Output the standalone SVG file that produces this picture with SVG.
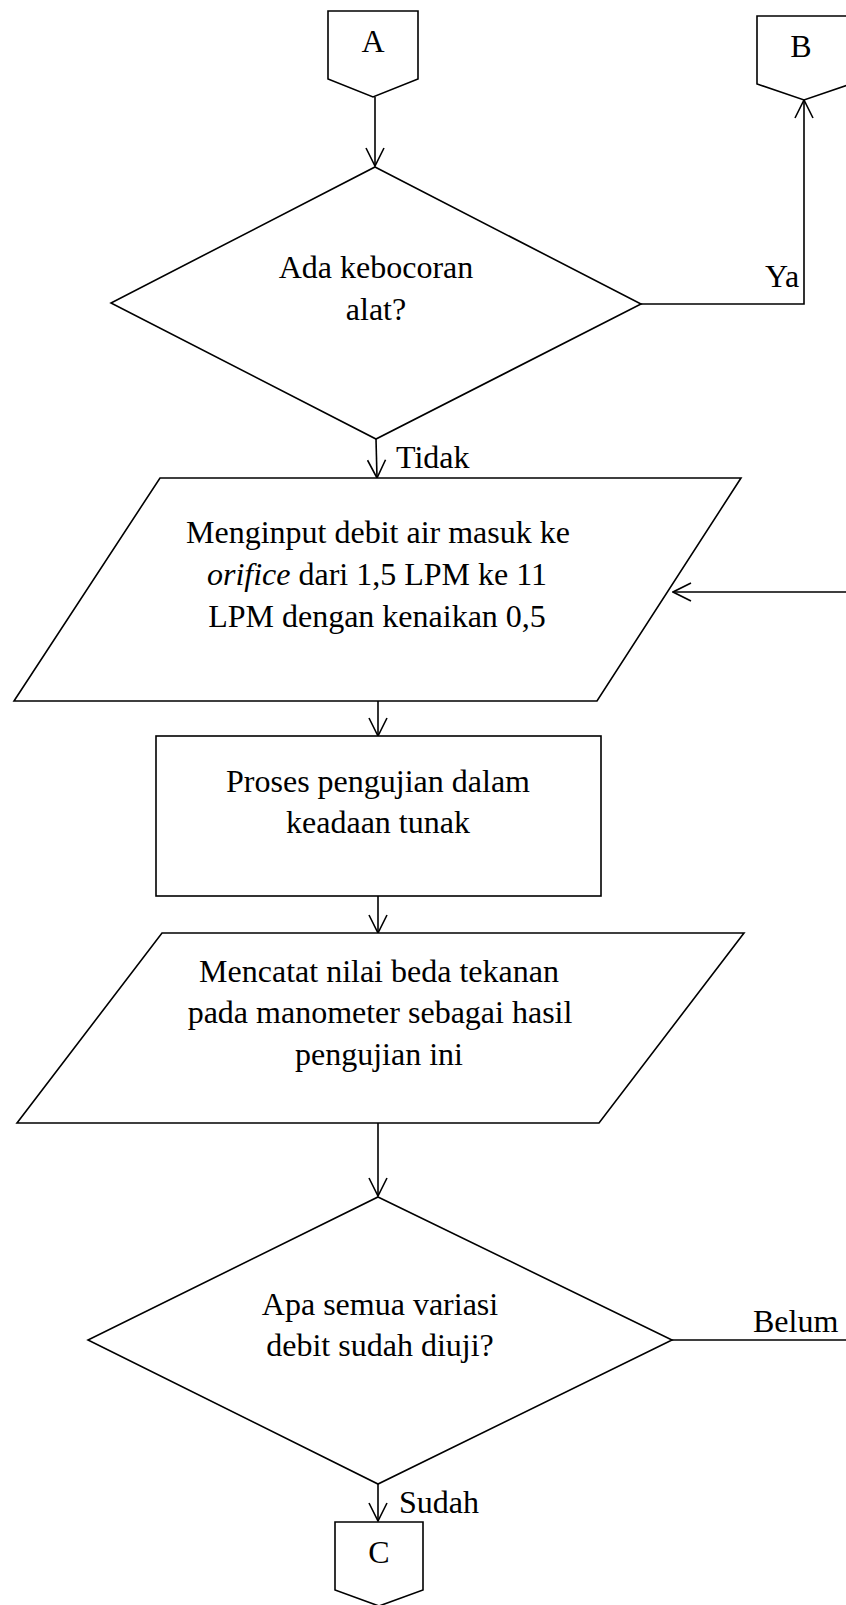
<svg xmlns="http://www.w3.org/2000/svg" width="846" height="1605" viewBox="0 0 846 1605">
<style>
.s{fill:#fff;stroke:#000;stroke-width:1.6}
.c{fill:none;stroke:#000;stroke-width:1.6}
.t{font-family:"Liberation Serif","Times New Roman",serif;font-size:32px;fill:#000}
.m{text-anchor:middle}
</style>
<defs>
<marker id="arr" viewBox="0 0 20 20" refX="19" refY="10" markerWidth="20" markerHeight="20" markerUnits="userSpaceOnUse" orient="auto">
<path d="M1,1 L19,10 L1,19" fill="none" stroke="#000" stroke-width="1.6"/>
</marker>
</defs>
<rect width="846" height="1605" fill="#fff"/>
<g id="connectors">
<path class="c" d="M375,97 L375,166" marker-end="url(#arr)"/>
<path class="c" d="M641,304 L804,304 L804,100" marker-end="url(#arr)"/>
<path class="c" d="M376,439 L377,478" marker-end="url(#arr)"/>
<path class="c" d="M378,701 L378,736" marker-end="url(#arr)"/>
<path class="c" d="M378,896 L378,933" marker-end="url(#arr)"/>
<path class="c" d="M378,1123 L378,1196" marker-end="url(#arr)"/>
<path class="c" d="M672,1340 L856,1340 L856,592 L673,592" marker-end="url(#arr)"/>
<path class="c" d="M378,1484 L378,1521" marker-end="url(#arr)"/>
<text class="t" x="765" y="287">Ya</text>
<text class="t" x="396" y="468">Tidak</text>
<text class="t" x="753" y="1332">Belum</text>
<text class="t" x="399" y="1513">Sudah</text>
</g>
<g id="connA">
<path class="s" d="M328,11 L418,11 L418,79 L373,97 L328,79 Z"/>
<text class="t m" x="373" y="52">A</text>
</g>
<g id="connB">
<path class="s" d="M757,16 L851,16 L851,84 L804,100 L757,84 Z"/>
<text class="t m" x="801" y="57">B</text>
</g>
<g id="dec1">
<path class="s" d="M375,167 L641,304 L376,439 L111,303 Z"/>
<text class="t m" x="376" y="278">Ada kebocoran</text>
<text class="t m" x="376" y="320">alat?</text>
</g>
<g id="input1">
<path class="s" d="M160,478 L741,478 L597,701 L14,701 Z"/>
<text class="t m" x="378" y="543">Menginput debit air masuk ke</text>
<text class="t m" x="377" y="585"><tspan font-style="italic">orifice</tspan> dari 1,5 LPM ke 11</text>
<text class="t m" x="377" y="627">LPM dengan kenaikan 0,5</text>
</g>
<g id="process1">
<rect class="s" x="156" y="736" width="445" height="160"/>
<text class="t m" x="378" y="792">Proses pengujian dalam</text>
<text class="t m" x="378" y="833">keadaan tunak</text>
</g>
<g id="output1">
<path class="s" d="M162,933 L744,933 L599,1123 L17,1123 Z"/>
<text class="t m" x="379" y="982">Mencatat nilai beda tekanan</text>
<text class="t m" x="380" y="1023">pada manometer sebagai hasil</text>
<text class="t m" x="379" y="1065">pengujian ini</text>
</g>
<g id="dec2">
<path class="s" d="M378,1197 L672,1340 L378,1484 L88,1340 Z"/>
<text class="t m" x="380" y="1315">Apa semua variasi</text>
<text class="t m" x="380" y="1356">debit sudah diuji?</text>
</g>
<g id="connC">
<path class="s" d="M335,1522 L423,1522 L423,1590 L379,1606 L335,1590 Z"/>
<text class="t m" x="379" y="1563">C</text>
</g>
</svg>
